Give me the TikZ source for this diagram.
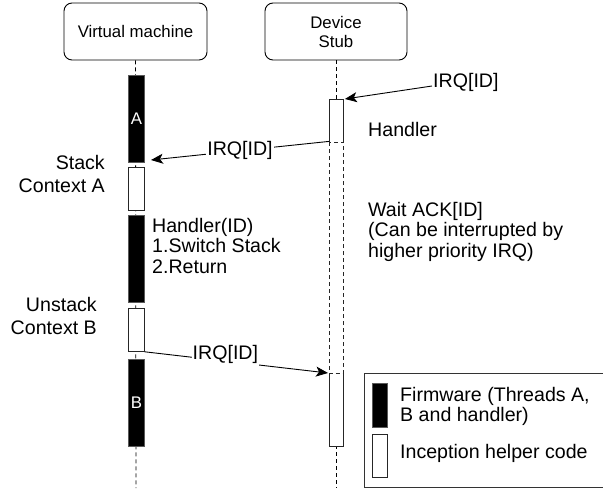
\documentclass[tikz,border=0pt]{standalone}
\usepackage{fontspec}
\setmainfont{Liberation Sans}
\usetikzlibrary{arrows.meta,calc}
\begin{document}
\begin{tikzpicture}[x=1pt,y=-1pt,
  head/.style={draw=black, rounded corners=8pt, line width=0.9pt, fill=white, inner sep=0pt,
    font=\fontsize{16.8}{19}\selectfont, align=center},
  txt/.style={font=\fontsize{19.6}{20.5}\selectfont, inner sep=0pt},
  fw/.style={draw=black!65, fill=black, line width=0.8pt, inner sep=0pt, anchor=north west},
  hc/.style={draw=black!85, fill=white, line width=0.8pt, inner sep=0pt, anchor=north west},
  plain/.style={inner sep=0pt, anchor=north west, fill=white},
  life/.style={line width=0.8pt, dash pattern=on 4pt off 3pt},
  msg/.style={line width=0.9pt, -{Stealth[length=12pt,width=10pt,inset=3pt]}},
  lbl/.style={txt, fill=white, inner xsep=1pt},
]
\useasboundingbox (0,0) rectangle (603,488);

% heads
\node[head, minimum width=143, minimum height=57] (vm) at (135.5,31.5) {Virtual machine};
\node[head, minimum width=142, minimum height=57] (dev) at (336,31.5) {Device\\Stub};

% lifelines
\coordinate (vmend) at (136,488);
\coordinate (devend) at (336,488);
\draw[life] (vm.south) -- (vmend);
\draw[life] (dev.south) -- (devend);

% virtual machine activations
\node[fw, minimum width=16, minimum height=87, text=white, font=\fontsize{16.8}{19}\selectfont] (A) at (128,75) {A};
\node[hc, minimum width=16, minimum height=43] (SA) at (128,167) {};
\node[fw, minimum width=16, minimum height=87] (HI) at (128,215) {};
\node[hc, minimum width=16, minimum height=43] (UB) at (128,308) {};
\node[fw, minimum width=16, minimum height=87, text=white, font=\fontsize{16.8}{19}\selectfont] (B) at (128,359) {B};

% device stub activations
\node[plain, minimum width=14, minimum height=43] (H) at (329,99) {};
\node[plain, minimum width=14, minimum height=231] (W) at (329,142) {};
\node[plain, minimum width=14, minimum height=73] (F) at (329,373) {};
\draw[line width=0.8pt, black!85] (H.south west) -- (H.north west) -- (H.north east) -- (H.south east);
\draw[line width=0.8pt, black!85] (F.north west) -- (F.south west) -- (F.south east) -- (F.north east);
\draw[life, black!85] (W.north west) rectangle (W.south east);

% texts
\node[txt, anchor=north west] (th) at (368,122) {Handler};
\node[txt, anchor=north west, align=left] (tw) at (368,202) {Wait ACK[ID]\\(Can be interrupted by\\higher priority IRQ)};
\node[txt, anchor=north west, align=left] (thi) at (152,218) {Handler(ID)\\1.Switch Stack\\2.Return};
\node[txt, anchor=north east, align=right] (tsa) at (105,155) {Stack\\[2.5pt]Context A};
\node[txt, anchor=north east, align=right] (tub) at (97,297) {Unstack\\[2.5pt]Context B};

% messages
\node[txt, anchor=west] (l1) at (433,82) {IRQ[ID]};
\draw[msg] ($(l1.west)+(-1,4)$) -- ($(H.north east)+(1.5,0)$);

\coordinate (t2) at (151,160);
\draw[msg] ($(H.south west)+(0,-1)$) -- node[lbl] (l2) {IRQ[ID]} (t2);

\coordinate (t3) at (328,373);
\draw[msg] (UB.south east) -- node[lbl, pos=0.44, text height=10pt, text depth=14pt, inner ysep=0pt] (l3) {IRQ[ID]} (t3);

% legend
\node[draw=black!80, line width=0.8pt, inner sep=0pt, anchor=north west, minimum width=242, minimum height=114] (leg) at (364,373) {};
\node[fw, minimum width=15, minimum height=44] (sw1) at (372,383) {};
\node[hc, minimum width=15, minimum height=43] (sw2) at (372,434) {};
\node[txt, anchor=north west, align=left] (lt1) at (400,387) {Firmware (Threads A,\\B and handler)};
\node[txt, anchor=north west] (lt2) at (400,444) {Inception helper code};
\end{tikzpicture}
\end{document}
